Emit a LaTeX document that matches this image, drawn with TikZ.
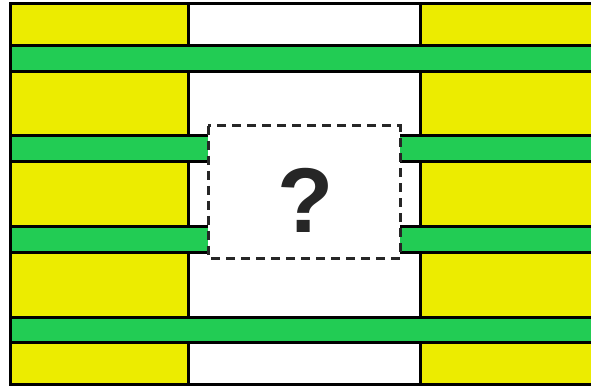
\documentclass[tikz,border=0pt]{standalone}
\usepackage{fontspec}
\setmainfont{Liberation Sans}
\definecolor{layeryellow}{RGB}{236,236,0}
\definecolor{layergreen}{RGB}{34,204,84}
\tikzset{
  yellowblock/.style={draw=black,line width=3pt,fill=layeryellow},
  greenbar/.style={draw=black,line width=3pt,fill=layergreen},
  unknownbox/.style={draw=black!85,line width=3pt,dash pattern=on 9pt off 6pt}
}
\begin{document}
\begin{tikzpicture}[x=1pt,y=-1pt]
\useasboundingbox (0,0) rectangle (591,387);
\fill[white] (0,0) rectangle (591,387);
% yellow blocks, left and right columns
\foreach \ytop/\ybot in {3.5/45.5, 72/136, 162/227, 252/317, 342/384} {
  \draw[yellowblock] (10.5,\ytop) rectangle (188,\ybot);
  \draw[yellowblock] (420,\ytop) rectangle (600,\ybot);
}
% outer frame across the white column
\draw[black,line width=3pt] (10.5,3.5) -- (600,3.5) (10.5,384) -- (600,384);
% full green bars
\draw[greenbar] (10.5,45.5) rectangle (600,72);
\draw[greenbar] (10.5,317) rectangle (600,342);
% green bars cut by the unknown region
\foreach \ytop/\ybot in {136/162, 227/252} {
  \fill[layergreen] (10.5,\ytop) rectangle (208,\ybot);
  \draw[black,line width=3pt] (208,\ytop) -- (10.5,\ytop) -- (10.5,\ybot) -- (208,\ybot);
  \fill[layergreen] (400,\ytop) rectangle (600,\ybot);
  \draw[black,line width=3pt] (400,\ytop) -- (600,\ytop) (400,\ybot) -- (600,\ybot);
}
\draw[unknownbox] (208,126) rectangle (400,258);
\node[text=black!85,font=\fontsize{92}{92}\selectfont\bfseries] (qmark) at (306,200) {?};
\end{tikzpicture}
\end{document}
